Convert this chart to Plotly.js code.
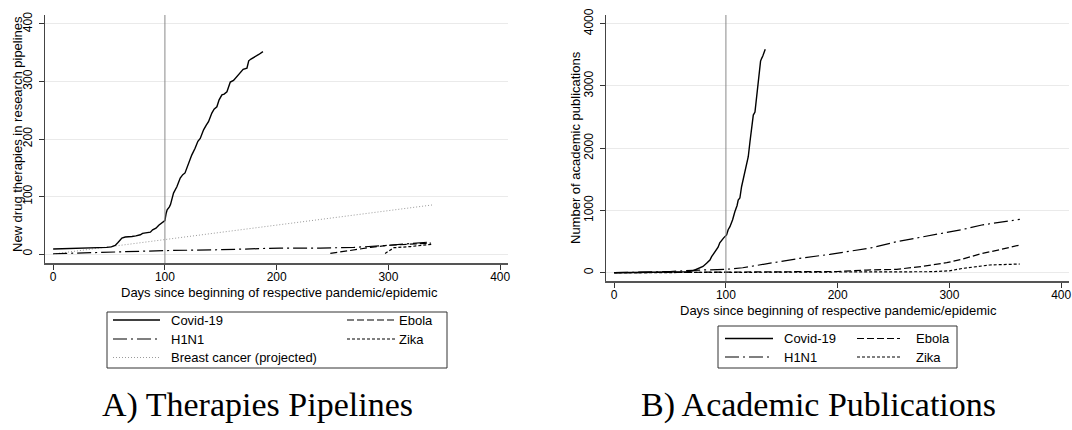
<!DOCTYPE html>
<html>
<head>
<meta charset="utf-8">
<script src="https://cdn.plot.ly/plotly-3.0.1.min.js"></script>
<style>html,body{margin:0;padding:0;background:#fff;}#chart{width:1072px;height:430px;}</style>
</head>
<body>
<div id="chart"></div>
<script>
// ---------- Data ----------
// Panel A: new drug therapies in research pipelines
const aCovidDays = [0,20,40,48,52,55.5,58,61.5,64.5,67.4,70.5,74,78,80,84,87,89,92,94.5,97,100,101,102,104,105,107.7,110.7,113.7,116,118,121,124,127,129.5,131.6,134.6,137,139,142,144,146.5,148.5,151,153,155.5,158.5,161.4,164,167.4,170,173.4,175,177,180,184,187.7];
const aCovidVals = [8.7,9.5,10.5,11.5,12.5,15,20,27.8,29.5,30.6,30.6,31.5,33.5,36,37,38,42,45,50,53,58,70,77,82,86,106,117,132,138,141,158,172,184,196,201,216,224,230,245,252,256,268,276.6,278,282,299,302,308,314,321,323,336,339,342,347,352];
const aH1n1Days = [0,48,100,150,185,203,239,269,299,320,338];
const aH1n1Vals = [0.5,3.5,6,7.5,9,10.4,10.4,11.5,15,18,21];
const aEbolaDays = [248,269,284,299,313,325,338];
const aEbolaVals = [1,7.5,11.5,15,16,17,19];
const aZikaDays = [297,305,320,330,339];
const aZikaVals = [1,11,13,15,17];
const aBreastDays = [0,340];
const aBreastVals = [0,85.5];

// Panel B: number of academic publications
const bCovidDays = [0,30,50,61.8,64.8,70.7,76.7,79.5,82.7,85.7,87.2,89.5,91.7,93,94.5,96.1,98,100.6,102,103.6,106,108,110,111,112.5,114,115.5,117,118.5,120,121.5,123,124.5,126,127.5,128.5,129.8,131,132,133,135.2];
const bCovidVals = [0,2,4,6,15,32,70,100,151,204,257,320,392,410,480,525,560,606,690,739,850,980,1080,1168,1200,1381,1500,1650,1720,1863,2100,2345,2533,2580,2827,3000,3176,3400,3444,3480,3589];
const bH1n1Days = [0,30,50,76.7,100.6,115,130.4,154,166,193,208,230,252.8,275,300,312.4,330,345,363];
const bH1n1Vals = [0,10,20,43,54,80,124,193,231,295,337,400,498,570,650,697,770,810,857];
const bEbolaDays = [0,100,150,200,226,252.8,275,297.6,312,327,345,363];
const bEbolaVals = [0,5,8,20,43,54,100,161,220,300,370,445];
const bZikaDays = [0,200,250,282.6,300,312,336,350,363];
const bZikaVals = [0,3,5,16,30,70,124,132,140];

const refDay = 100;
const xTicks = [0,100,200,300,400];
const aYTicks = [0,100,200,300,400];
const bYTicks = [0,1000,2000,3000,4000];

const seriesNames = ["Covid-19","H1N1","Ebola","Zika","Breast cancer (projected)"];
const panelTitles = ["A) Therapies Pipelines","B) Academic Publications"];
const xTitle = "Days since beginning of respective pandemic/epidemic";
const aYTitle = "New drug therapies in research pipelines";
const bYTitle = "Number of academic publications";

// ---------- Styles ----------
const W = 1072, H = 430;
const px = v => v / W;
const py = v => 1 - v / H;
const SANS = "Liberation Sans, Arial, sans-serif";
const SERIF = "Liberation Serif, Times New Roman, serif";
const styles = {
  "Covid-19": {color:"#000", width:1.4, dash:"solid"},
  "H1N1": {color:"#000", width:1.2, dash:"14px,4px,2px,4px"},
  "Ebola": {color:"#000", width:1.2, dash:"7px,3px"},
  "Zika": {color:"#000", width:1.2, dash:"3px,2px"},
  "Breast cancer (projected)": {color:"#9a9a9a", width:1, dash:"1px,2px"}
};

function tr(x, y, name, xa, ya) {
  return {x:x, y:y, name:name, type:"scatter", mode:"lines", xaxis:xa, yaxis:ya,
          line:Object.assign({}, styles[name]), showlegend:false, hoverinfo:"skip"};
}

const data = [
  tr(aBreastDays, aBreastVals, seriesNames[4], "x", "y"),
  tr(aZikaDays, aZikaVals, seriesNames[3], "x", "y"),
  tr(aEbolaDays, aEbolaVals, seriesNames[2], "x", "y"),
  tr(aH1n1Days, aH1n1Vals, seriesNames[1], "x", "y"),
  tr(aCovidDays, aCovidVals, seriesNames[0], "x", "y"),
  tr(bZikaDays, bZikaVals, seriesNames[3], "x2", "y2"),
  tr(bEbolaDays, bEbolaVals, seriesNames[2], "x2", "y2"),
  tr(bH1n1Days, bH1n1Vals, seriesNames[1], "x2", "y2"),
  tr(bCovidDays, bCovidVals, seriesNames[0], "x2", "y2")
];

function xAxis(domain, anchor) {
  return {domain:domain, anchor:anchor, range:[-7.3,407], tickvals:xTicks, ticktext:xTicks.map(String),
    showgrid:false, zeroline:false, showline:true, linecolor:"#555", linewidth:1.5,
    ticks:"outside", ticklen:5, tickcolor:"#333", tickwidth:1, ticklabelstandoff:-3,
    tickfont:{family:SANS, size:12, color:"#000"}, fixedrange:true};
}
function yAxis(domain, anchor, range, ticks) {
  return {domain:domain, anchor:anchor, range:range, tickvals:ticks, ticktext:ticks.map(String),
    showgrid:true, gridcolor:"#eaeaea", gridwidth:1, zeroline:false, showline:true, linecolor:"#444", linewidth:1.2,
    ticks:"outside", ticklen:5, tickcolor:"#333", tickwidth:1, tickangle:-90, ticklabelstandoff:2,
    tickfont:{family:SANS, size:12, color:"#000"}, fixedrange:true};
}

const shapes = [
  {type:"line", xref:"x", yref:"y domain", x0:refDay, x1:refDay, y0:0, y1:1, line:{color:"#8a8a8a", width:1}},
  {type:"line", xref:"x2", yref:"y2 domain", x0:refDay, x1:refDay, y0:0, y1:1, line:{color:"#8a8a8a", width:1}},
  // legend boxes
  {type:"rect", xref:"paper", yref:"paper", x0:px(107), x1:px(447), y0:py(368), y1:py(312), line:{color:"#333", width:1}, fillcolor:"rgba(0,0,0,0)"},
  {type:"rect", xref:"paper", yref:"paper", x0:px(718), x1:px(957), y0:py(368), y1:py(326), line:{color:"#333", width:1}, fillcolor:"rgba(0,0,0,0)"}
];
const annotations = [];
function legendItem(name, x0, x1, tx, y) {
  const s = styles[name];
  shapes.push({type:"line", xref:"paper", yref:"paper", x0:px(x0), x1:px(x1), y0:py(y), y1:py(y),
    line:{color:s.color, width:s.width, dash:s.dash}});
  annotations.push({xref:"paper", yref:"paper", x:px(tx), y:py(y), xanchor:"left", yanchor:"middle",
    text:name, showarrow:false, font:{family:SANS, size:13, color:"#000"}});
}
// Panel A legend
legendItem(seriesNames[0], 113, 160, 169, 320);
legendItem(seriesNames[1], 113, 160, 169, 339);
legendItem(seriesNames[4], 113, 160, 169, 357.5);
legendItem(seriesNames[2], 347, 395, 397, 320);
legendItem(seriesNames[3], 347, 395, 397, 339);
// Panel B legend
legendItem(seriesNames[0], 725, 773, 782, 338.5);
legendItem(seriesNames[1], 725, 773, 782, 357);
legendItem(seriesNames[2], 857, 900, 914, 338.5);
legendItem(seriesNames[3], 857, 900, 914, 357);

// axis titles
annotations.push({xref:"paper", yref:"paper", x:px(279), y:py(292), xanchor:"center", yanchor:"middle", text:xTitle, showarrow:false, font:{family:SANS, size:13, color:"#000"}});
annotations.push({xref:"paper", yref:"paper", x:px(838), y:py(310.5), xanchor:"center", yanchor:"middle", text:xTitle, showarrow:false, font:{family:SANS, size:13, color:"#000"}});
annotations.push({xref:"paper", yref:"paper", x:px(17), y:py(134), xanchor:"center", yanchor:"middle", textangle:-90, text:aYTitle, showarrow:false, font:{family:SANS, size:13, color:"#000"}});
annotations.push({xref:"paper", yref:"paper", x:px(575), y:py(148), xanchor:"center", yanchor:"middle", textangle:-90, text:bYTitle, showarrow:false, font:{family:SANS, size:13, color:"#000"}});
// panel titles
annotations.push({xref:"paper", yref:"paper", x:px(257), y:py(405), xanchor:"center", yanchor:"middle", text:panelTitles[0], showarrow:false, font:{family:SERIF, size:34, color:"#000"}});
annotations.push({xref:"paper", yref:"paper", x:px(818), y:py(405), xanchor:"center", yanchor:"middle", text:panelTitles[1], showarrow:false, font:{family:SERIF, size:34, color:"#000"}});

const layout = {
  width:W, height:H, margin:{l:0, r:0, t:0, b:0}, autosize:false,
  paper_bgcolor:"#fff", plot_bgcolor:"#fff", showlegend:false,
  xaxis: xAxis([px(45), px(508)], "y"),
  yaxis: yAxis([py(263), py(15)], "x", [-15.6, 415.6], aYTicks),
  xaxis2: xAxis([px(606), px(1069)], "y2"),
  yaxis2: yAxis([py(281), py(15)], "x2", [-133, 4140], bYTicks),
  shapes:shapes, annotations:annotations
};

Plotly.newPlot("chart", data, layout, {staticPlot:true, displayModeBar:false});
</script>
</body>
</html>
